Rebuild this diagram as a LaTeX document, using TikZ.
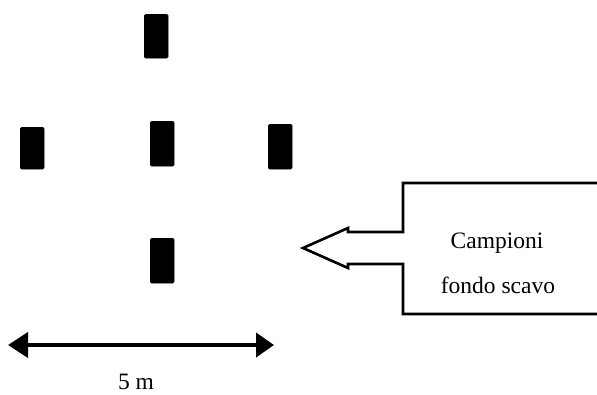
\documentclass[tikz,border=0pt]{standalone}
\usepackage{fontspec}
\setmainfont{Liberation Serif}
\usetikzlibrary{arrows.meta}
\begin{document}
\begin{tikzpicture}[x=1pt,y=-1pt,
  pole/.style={fill=black,draw=black,rounded corners=1.5pt,minimum width=24pt,minimum height=44pt,inner sep=0pt,anchor=north west},
  callout/.style={line width=2.6pt,line join=miter},
  label/.style={font=\fontsize{23.5}{23.5}\selectfont,inner sep=0pt},
  dim/.style={line width=4pt,{Triangle[length=20pt,width=25pt]}-{Triangle[length=18pt,width=24pt]}}]
\useasboundingbox (0,0) rectangle (597,394);
\clip (0,0) rectangle (597,394);
% sample points
\node[pole] (top) at (144,14) {};
\node[pole,minimum height=45pt] (center) at (150,121) {};
\node[pole,minimum height=42pt] (left) at (20,127) {};
\node[pole,minimum height=45pt] (right) at (268,124) {};
\node[pole,minimum height=45pt] (bottom) at (150,238) {};
% callout box with arrow
\draw[callout] (605,183) -- (403,183) -- (403,232) -- (348,232) -- (348,228)
  -- (303,248) -- (348,268) -- (348,264) -- (403,264) -- (403,314) -- (605,314);
\node[label] (t1) at (497,243) {Campioni};
\node[label] (t2) at (498,285) {fondo scavo};
% dimension arrow
\coordinate (dl) at (8,345);
\coordinate (dr) at (274,345);
\draw[dim] (dl) -- (dr);
\node[label,anchor=base] (dimtext) at (136,389) {5 m};
\end{tikzpicture}
\end{document}
